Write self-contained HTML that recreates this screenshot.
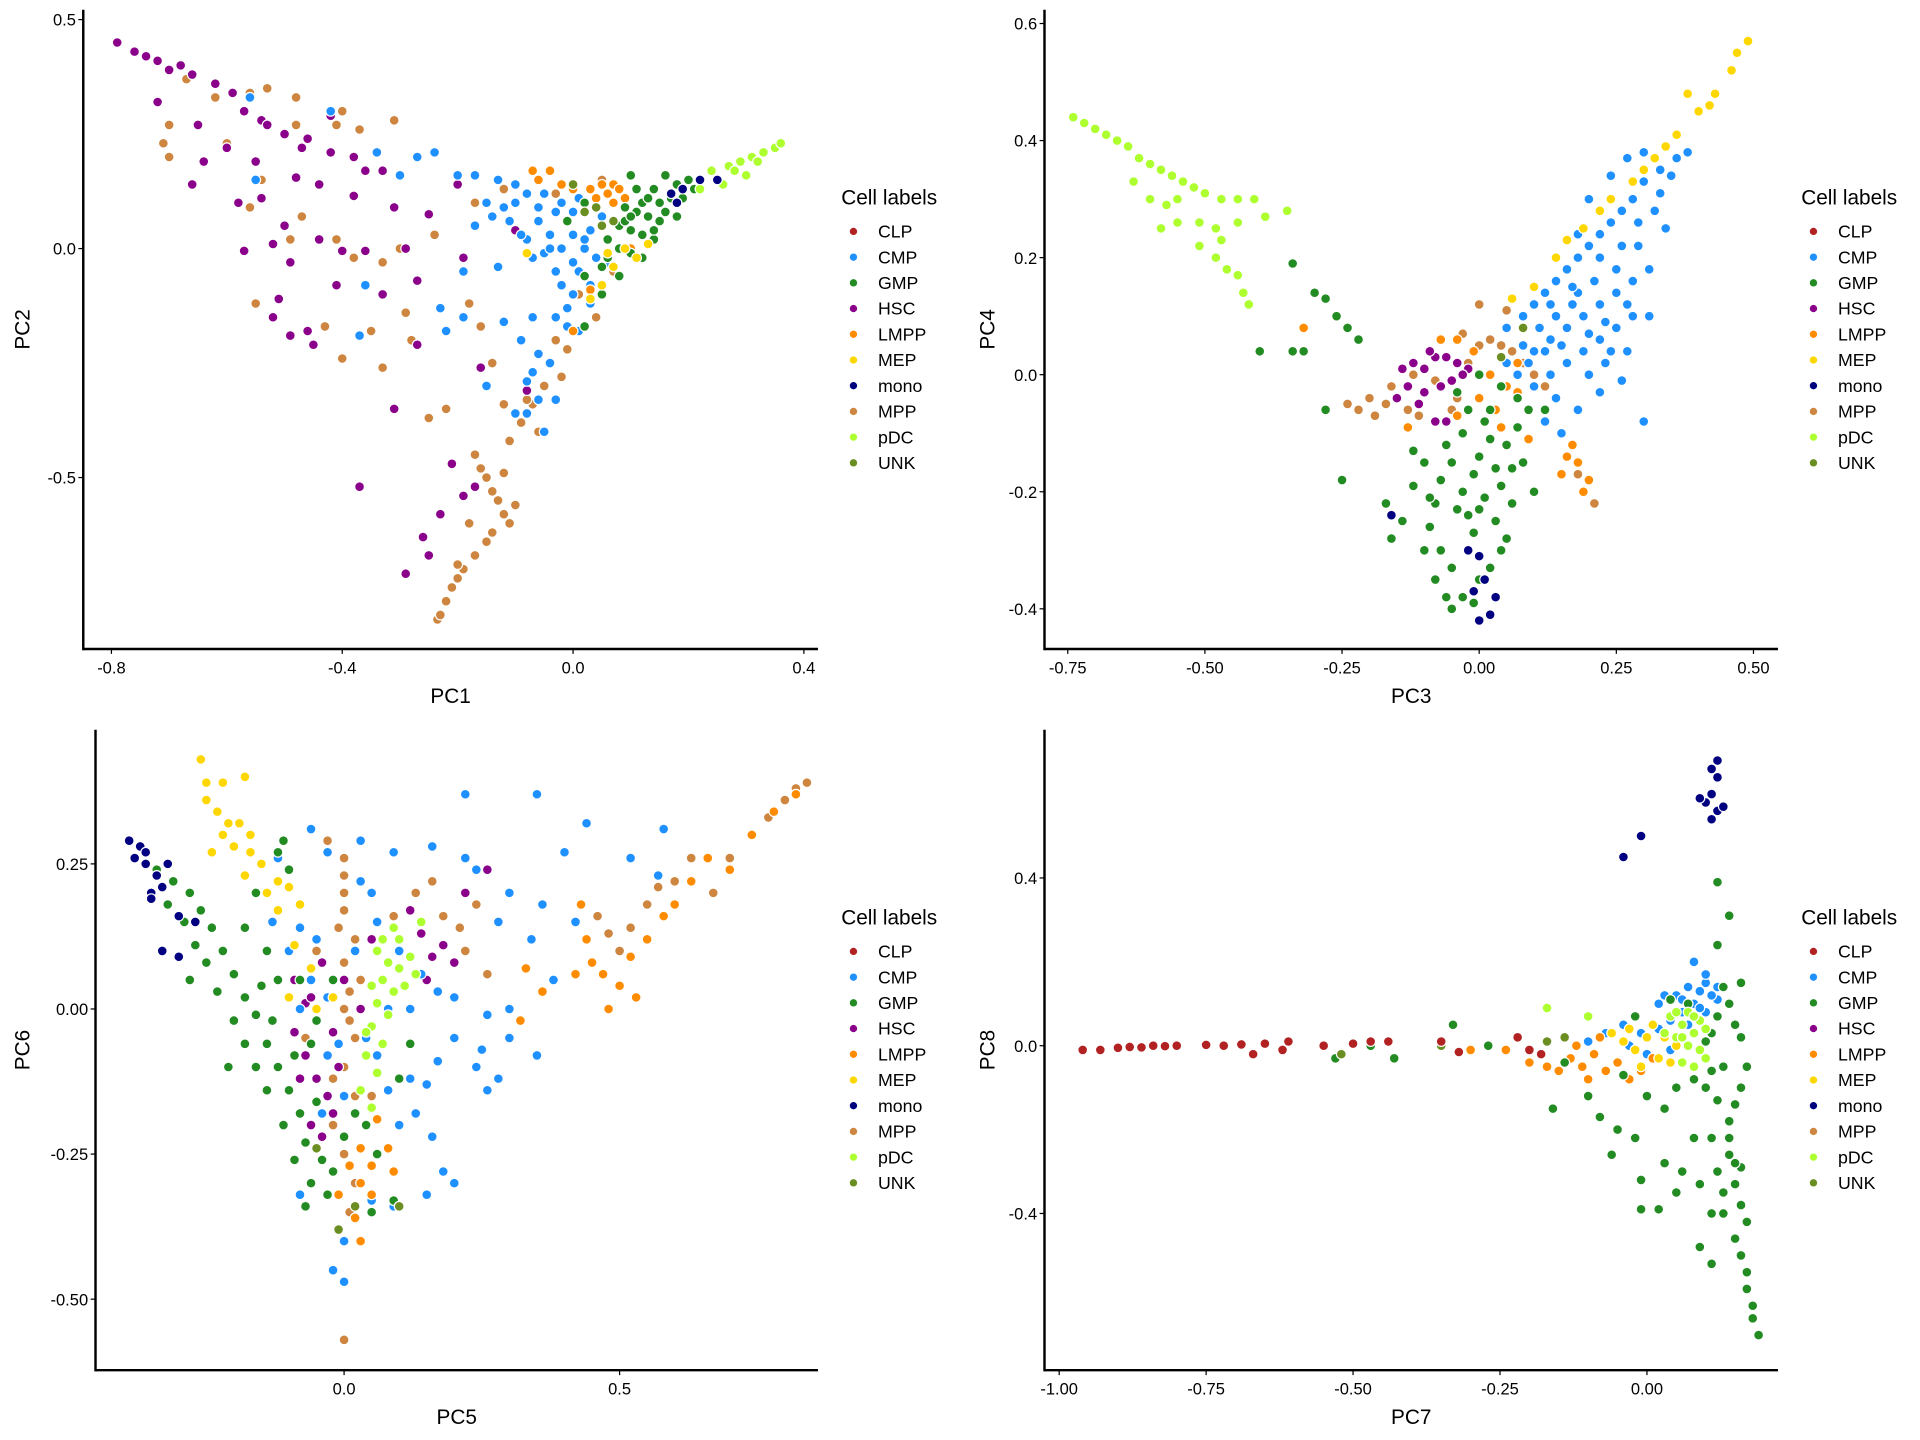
<!DOCTYPE html>
<html><head><meta charset="utf-8"><style>
html,body{margin:0;padding:0;background:#fff;}
svg{display:block;font-family:"Liberation Sans",Arial,sans-serif;}
</style></head><body>
<svg id="fig" width="1920" height="1440" viewBox="0 0 1568 1176" xmlns="http://www.w3.org/2000/svg"></svg>
<script>
const labels=["CLP","CMP","GMP","HSC","LMPP","MEP","mono","MPP","pDC","UNK"];
const colors={CLP:"#B22222",CMP:"#1E90FF",GMP:"#228B22",HSC:"#8B008B",LMPP:"#FF8C00",MEP:"#FFD700",mono:"#000080",MPP:"#CD853F",pDC:"#ADFF2F",UNK:"#6B8E23"};
const drawOrder=["MPP","HSC","CMP","LMPP","GMP","MEP","pDC","mono","UNK","CLP"];

const p1Ticks_x=[-0.8,-0.4,0.0,0.4]; const p1TickLabels_x=["-0.8","-0.4","0.0","0.4"];
const p1Ticks_y=[0.5,0.0,-0.5]; const p1TickLabels_y=["0.5","0.0","-0.5"];
const p1_HSC=[[-0.79,0.45],[-0.76,0.43],[-0.72,0.41],[-0.68,0.40],[-0.66,0.38],[-0.62,0.36],[-0.59,0.34],[-0.57,0.30],[-0.54,0.28],[-0.50,0.25],[-0.46,0.24],[-0.42,0.21],[-0.38,0.20],[-0.33,0.17],[-0.72,0.32],[-0.65,0.27],[-0.60,0.22],[-0.55,0.19],[-0.48,0.155],[-0.44,0.14],[-0.38,0.115],[-0.31,0.09],[-0.25,0.075],[-0.66,0.14],[-0.58,0.10],[-0.50,0.05],[-0.44,0.02],[-0.36,-0.005],[-0.29,0.0],[-0.57,-0.005],[-0.49,-0.03],[-0.41,-0.08],[-0.33,-0.10],[-0.27,-0.07],[-0.19,-0.02],[-0.10,0.04],[-0.19,-0.15],[-0.08,-0.31],[-0.10,-0.36],[-0.21,-0.47],[-0.23,-0.58],[-0.26,-0.63],[-0.25,-0.67],[-0.29,-0.71],[-0.37,-0.52],[-0.46,-0.18],[-0.52,-0.15],[-0.51,-0.11],[-0.27,-0.21],[-0.16,-0.26],[-0.64,0.19],[-0.54,0.11],[-0.42,0.29],[-0.20,0.14],[-0.49,-0.19],[-0.45,-0.21],[-0.31,-0.35],[-0.19,-0.54],[-0.17,-0.52],[-0.74,0.42],[-0.70,0.39],[-0.53,0.27],[-0.47,0.22],[-0.36,0.17],[-0.52,0.01],[-0.40,-0.005]];
const p1_MPP=[[-0.67,0.37],[-0.62,0.33],[-0.53,0.35],[-0.56,0.34],[-0.48,0.33],[-0.40,0.30],[-0.31,0.28],[-0.37,0.26],[-0.41,0.27],[-0.70,0.27],[-0.71,0.23],[-0.70,0.20],[-0.60,0.23],[-0.48,0.27],[-0.54,0.15],[-0.56,0.09],[-0.49,0.02],[-0.58,0.10],[-0.47,0.07],[-0.41,0.02],[-0.38,-0.02],[-0.30,0.00],[-0.33,-0.03],[-0.24,0.03],[-0.17,0.10],[-0.12,0.13],[-0.03,0.12],[0.05,0.15],[-0.55,-0.12],[-0.43,-0.17],[-0.40,-0.24],[-0.35,-0.18],[-0.29,-0.14],[-0.28,-0.20],[-0.18,-0.12],[-0.16,-0.17],[-0.14,-0.25],[-0.33,-0.26],[-0.22,-0.35],[-0.25,-0.37],[-0.12,-0.34],[-0.07,-0.34],[-0.02,-0.28],[-0.01,-0.22],[0.01,-0.10],[0.04,-0.15],[0.07,-0.05],[-0.17,-0.45],[-0.16,-0.48],[-0.15,-0.50],[-0.13,-0.55],[-0.12,-0.58],[-0.11,-0.60],[-0.10,-0.56],[-0.14,-0.62],[-0.15,-0.64],[-0.17,-0.67],[-0.19,-0.70],[-0.20,-0.72],[-0.21,-0.74],[-0.22,-0.77],[-0.235,-0.81],[-0.23,-0.80],[-0.18,-0.60],[-0.06,-0.40],[-0.09,-0.38],[-0.03,-0.20],[-0.08,-0.33],[-0.05,-0.30],[-0.11,-0.42],[-0.20,-0.69],[-0.12,-0.49],[-0.14,-0.53]];
const p1_CMP=[[-0.56,0.33],[-0.42,0.30],[-0.34,0.21],[-0.30,0.16],[-0.27,0.20],[-0.24,0.21],[-0.20,0.16],[-0.17,0.16],[-0.13,0.15],[-0.10,0.14],[-0.08,0.12],[-0.05,0.12],[-0.03,0.08],[-0.01,0.06],[0.0,0.03],[0.02,0.0],[0.00,-0.03],[-0.03,-0.05],[-0.05,-0.01],[-0.08,0.02],[-0.11,0.06],[-0.14,0.07],[-0.17,0.05],[-0.15,0.10],[-0.12,0.09],[-0.09,0.03],[-0.07,-0.02],[-0.04,0.03],[-0.02,0.0],[0.03,0.04],[0.04,-0.02],[0.06,-0.03],[-0.19,-0.05],[-0.13,-0.04],[-0.23,-0.13],[-0.19,-0.15],[-0.12,-0.16],[-0.07,-0.15],[-0.03,-0.15],[-0.01,-0.17],[0.01,-0.18],[-0.37,-0.19],[-0.22,-0.18],[-0.15,-0.30],[-0.07,-0.27],[-0.04,-0.25],[-0.06,-0.23],[-0.03,-0.33],[-0.1,-0.36],[-0.05,-0.40],[-0.08,-0.29],[0.03,-0.08],[0.0,-0.10],[-0.36,-0.08],[-0.55,0.15],[-0.02,0.10],[0.0,0.08],[-0.06,0.06],[-0.04,0.0],[0.01,-0.05],[-0.02,-0.08],[0.03,-0.12],[-0.01,-0.13],[-0.09,-0.20],[-0.06,-0.33],[-0.08,-0.36],[0.05,0.07],[0.02,0.02],[-0.10,0.10],[-0.06,0.09],[0.01,0.11]];
const p1_GMP=[[0.10,0.16],[0.14,0.13],[0.16,0.16],[0.18,0.14],[0.20,0.15],[0.12,0.10],[0.15,0.10],[0.17,0.11],[0.19,0.11],[0.09,0.09],[0.11,0.08],[0.13,0.07],[0.15,0.06],[0.08,0.05],[0.10,0.04],[0.12,0.03],[0.14,0.02],[0.06,0.02],[0.08,0.0],[0.10,-0.01],[0.12,-0.02],[0.05,-0.04],[0.08,-0.06],[0.02,0.10],[-0.01,0.06],[0.02,-0.06],[0.05,-0.10],[0.02,-0.17],[0.21,0.13],[0.11,0.13],[0.13,0.11],[0.16,0.08],[0.18,0.07],[0.14,0.04],[0.09,0.06],[0.06,-0.02],[0.10,0.07]];
const p1_LMPP=[[-0.07,0.17],[-0.04,0.17],[-0.02,0.14],[0.0,0.13],[0.03,0.13],[0.05,0.14],[0.07,0.14],[0.06,0.12],[0.09,0.11],[-0.06,0.15],[0.07,0.10],[0.03,-0.09],[0.0,-0.18],[0.10,0.0],[0.04,0.11],[0.08,0.13]];
const p1_MEP=[[-0.08,-0.01],[0.06,-0.01],[0.09,0.0],[0.07,-0.04],[0.05,-0.08],[0.03,-0.11],[0.13,0.01],[0.11,-0.02]];
const p1_mono=[[0.17,0.12],[0.19,0.13],[0.22,0.15],[0.25,0.15],[0.18,0.10]];
const p1_pDC=[[0.24,0.17],[0.27,0.18],[0.29,0.19],[0.31,0.20],[0.33,0.21],[0.35,0.22],[0.36,0.23],[0.30,0.16],[0.26,0.14],[0.22,0.13],[0.32,0.19],[0.28,0.17]];
const p1_UNK=[[0.0,0.14],[0.02,0.08],[0.05,0.05],[0.07,0.06],[0.04,0.09]];

const p2Ticks_x=[-0.75,-0.5,-0.25,0,0.25,0.5]; const p2TickLabels_x=["-0.75","-0.50","-0.25","0.00","0.25","0.50"];
const p2Ticks_y=[0.6,0.4,0.2,0,-0.2,-0.4]; const p2TickLabels_y=["0.6","0.4","0.2","0.0","-0.2","-0.4"];
const p2_pDC=[[-0.74,0.44],[-0.72,0.43],[-0.70,0.42],[-0.68,0.41],[-0.66,0.40],[-0.64,0.39],[-0.62,0.37],[-0.60,0.36],[-0.58,0.35],[-0.56,0.34],[-0.54,0.33],[-0.52,0.32],[-0.50,0.31],[-0.47,0.30],[-0.44,0.30],[-0.41,0.30],[-0.35,0.28],[-0.63,0.33],[-0.60,0.30],[-0.57,0.29],[-0.55,0.26],[-0.51,0.26],[-0.48,0.25],[-0.44,0.26],[-0.39,0.27],[-0.51,0.22],[-0.48,0.20],[-0.46,0.18],[-0.44,0.17],[-0.43,0.14],[-0.42,0.12],[-0.55,0.30],[-0.58,0.25],[-0.47,0.23]];
const p2_GMP=[[-0.34,0.19],[-0.30,0.14],[-0.28,0.13],[-0.26,0.10],[-0.24,0.08],[-0.22,0.06],[-0.32,0.04],[-0.40,0.04],[-0.34,0.04],[-0.28,-0.06],[-0.25,-0.18],[-0.17,-0.22],[-0.14,-0.25],[-0.16,-0.28],[-0.09,-0.26],[-0.10,-0.30],[-0.08,-0.35],[-0.05,-0.40],[-0.03,-0.38],[-0.05,-0.33],[-0.02,-0.30],[0.0,-0.35],[0.02,-0.33],[0.04,-0.30],[-0.01,-0.27],[0.03,-0.25],[0.06,-0.22],[0.01,-0.21],[-0.03,-0.20],[-0.07,-0.18],[-0.10,-0.15],[-0.06,-0.12],[-0.03,-0.10],[0.0,-0.14],[0.03,-0.16],[0.05,-0.12],[0.07,-0.09],[0.09,-0.06],[0.02,-0.06],[-0.02,-0.06],[-0.04,-0.03],[0.04,-0.02],[0.0,0.0],[-0.08,-0.22],[-0.12,-0.19],[0.08,-0.15],[0.10,-0.20],[0.05,-0.28],[-0.06,-0.38],[-0.01,-0.39],[-0.04,-0.23],[0.07,-0.04],[0.12,-0.06],[-0.12,-0.13],[0.01,-0.08],[-0.01,-0.17],[0.02,-0.11],[-0.07,-0.30],[-0.02,-0.24],[0.04,-0.19],[-0.05,-0.15],[0.0,-0.23],[-0.09,-0.21],[0.06,-0.16]];
const p2_mono=[[-0.02,-0.30],[0.0,-0.31],[0.01,-0.35],[-0.01,-0.37],[0.0,-0.42],[0.02,-0.41],[-0.16,-0.24],[0.03,-0.38]];
const p2_HSC=[[-0.14,0.01],[-0.12,0.02],[-0.10,0.01],[-0.08,0.03],[-0.06,0.03],[-0.04,0.02],[-0.02,0.01],[-0.13,-0.02],[-0.10,-0.03],[-0.07,-0.02],[-0.05,-0.01],[-0.11,-0.05],[-0.08,-0.08],[-0.06,-0.08],[-0.15,-0.04],[-0.09,0.04],[-0.03,0.0]];
const p2_MPP=[[-0.24,-0.05],[-0.22,-0.06],[-0.20,-0.04],[-0.19,-0.07],[-0.17,-0.05],[-0.15,-0.04],[-0.13,-0.06],[-0.11,-0.07],[-0.16,-0.02],[-0.12,0.0],[-0.08,-0.01],[-0.04,-0.04],[-0.02,0.02],[0.0,0.05],[0.02,0.06],[0.04,0.05],[0.06,0.04],[0.08,0.02],[0.10,0.0],[0.12,-0.02],[0.0,0.12],[-0.03,0.07],[0.18,-0.17],[0.21,-0.22],[-0.05,-0.06],[0.05,0.11]];
const p2_LMPP=[[-0.07,0.06],[-0.04,0.06],[-0.01,0.04],[0.02,0.0],[0.05,-0.02],[0.0,-0.04],[0.03,-0.06],[0.07,-0.03],[0.04,-0.09],[-0.04,-0.07],[0.16,-0.14],[0.18,-0.15],[0.20,-0.18],[0.15,-0.17],[0.19,-0.20],[0.17,-0.12],[-0.32,0.08],[-0.13,-0.09],[0.07,0.02],[0.09,-0.11]];
const p2_CMP=[[0.05,0.08],[0.08,0.10],[0.10,0.12],[0.12,0.14],[0.14,0.16],[0.16,0.18],[0.18,0.20],[0.20,0.22],[0.22,0.24],[0.24,0.26],[0.26,0.28],[0.28,0.30],[0.30,0.33],[0.33,0.35],[0.36,0.37],[0.38,0.38],[0.10,0.04],[0.13,0.06],[0.16,0.08],[0.19,0.10],[0.22,0.12],[0.25,0.14],[0.28,0.16],[0.31,0.18],[0.13,0.00],[0.16,0.02],[0.19,0.04],[0.22,0.06],[0.25,0.08],[0.28,0.10],[0.31,0.10],[0.10,-0.02],[0.14,-0.04],[0.18,-0.06],[0.22,-0.03],[0.26,-0.01],[0.30,-0.08],[0.25,0.18],[0.21,0.16],[0.17,0.12],[0.14,0.10],[0.11,0.08],[0.08,0.05],[0.05,0.02],[0.07,0.0],[0.2,0.0],[0.29,0.22],[0.23,0.02],[0.27,0.04],[0.12,-0.08],[0.15,-0.10],[0.34,0.25],[0.32,0.28],[0.18,0.14],[0.15,0.05],[0.26,0.22],[0.2,0.3],[0.24,0.34],[0.27,0.37],[0.30,0.38],[0.22,0.20],[0.18,0.24],[0.27,0.12],[0.09,0.02],[0.12,0.04],[0.23,0.09],[0.20,0.07],[0.17,0.15],[0.29,0.26],[0.33,0.31],[0.35,0.34],[0.13,0.12],[0.24,0.04]];
const p2_MEP=[[0.06,0.13],[0.10,0.15],[0.14,0.20],[0.19,0.25],[0.24,0.30],[0.28,0.33],[0.32,0.37],[0.36,0.41],[0.40,0.45],[0.43,0.48],[0.46,0.52],[0.49,0.57],[0.38,0.48],[0.30,0.35],[0.22,0.28],[0.16,0.23],[0.47,0.55],[0.34,0.39],[0.42,0.46]];
const p2_UNK=[[0.08,0.08],[0.04,0.03]];

const p3Ticks_x=[0,0.5]; const p3TickLabels_x=["0.0","0.5"];
const p3Ticks_y=[0.25,0,-0.25,-0.5]; const p3TickLabels_y=["0.25","0.00","-0.25","-0.50"];
const p3_mono=[[-0.39,0.29],[-0.37,0.28],[-0.36,0.27],[-0.38,0.26],[-0.36,0.25],[-0.34,0.23],[-0.33,0.21],[-0.35,0.20],[-0.32,0.25],[-0.30,0.16],[-0.27,0.15],[-0.30,0.09],[-0.33,0.10],[-0.35,0.19]];
const p3_MEP=[[-0.26,0.43],[-0.25,0.39],[-0.22,0.39],[-0.18,0.40],[-0.25,0.36],[-0.23,0.34],[-0.21,0.32],[-0.19,0.32],[-0.17,0.30],[-0.22,0.30],[-0.20,0.28],[-0.17,0.27],[-0.15,0.25],[-0.12,0.22],[-0.10,0.21],[-0.14,0.20],[-0.08,0.18],[-0.12,0.17],[-0.24,0.27],[-0.18,0.23],[-0.09,0.11],[-0.06,0.07],[-0.05,0.0],[-0.10,0.02],[-0.02,0.02]];
const p3_MPP=[[-0.03,0.29],[0.0,0.26],[0.0,0.23],[0.0,0.20],[0.0,0.17],[0.02,0.12],[0.0,0.08],[0.03,0.05],[0.0,0.0],[0.02,-0.05],[0.0,-0.10],[0.02,-0.15],[-0.02,-0.20],[0.0,-0.25],[0.02,-0.30],[0.01,-0.35],[0.0,-0.57],[0.09,0.16],[0.13,0.20],[0.16,0.22],[0.18,0.16],[0.21,0.14],[0.24,0.18],[0.22,0.10],[0.26,0.06],[0.46,0.16],[0.48,0.13],[0.50,0.10],[0.52,0.14],[0.55,0.18],[0.57,0.21],[0.60,0.22],[0.63,0.26],[0.67,0.20],[0.70,0.26],[0.74,0.30],[0.77,0.33],[0.80,0.36],[0.82,0.38],[0.84,0.39],[-0.05,0.10],[-0.07,-0.05],[0.05,-0.15],[-0.01,0.14],[0.01,-0.02],[-0.02,-0.12],[0.01,0.03]];
const p3_LMPP=[[0.44,0.12],[0.45,0.08],[0.47,0.06],[0.50,0.04],[0.52,0.09],[0.53,0.02],[0.48,0.00],[0.42,0.06],[0.43,0.18],[0.55,0.12],[0.58,0.16],[0.60,0.18],[0.63,0.22],[0.66,0.26],[0.70,0.24],[0.74,0.30],[0.78,0.34],[0.82,0.37],[0.36,0.03],[0.32,-0.02],[0.33,0.07],[0.03,-0.24],[0.01,-0.27],[0.03,-0.30],[0.05,-0.32],[0.02,-0.36],[0.03,-0.40],[-0.01,-0.32],[0.05,-0.27],[0.08,-0.24],[0.09,-0.28],[0.06,-0.19]];
const p3_CMP=[[-0.06,0.31],[-0.03,0.27],[0.03,0.29],[-0.12,0.26],[0.16,0.28],[0.22,0.26],[0.24,0.24],[0.22,0.37],[0.35,0.37],[0.40,0.27],[0.44,0.32],[0.58,0.31],[0.52,0.26],[0.57,0.23],[0.30,0.20],[0.28,0.15],[0.34,0.12],[0.36,0.18],[0.42,0.15],[0.38,0.05],[0.30,0.00],[0.26,-0.01],[0.30,-0.05],[0.35,-0.08],[0.28,-0.12],[0.24,-0.10],[0.26,-0.14],[0.20,-0.05],[0.17,-0.09],[0.15,-0.13],[0.13,-0.18],[0.16,-0.22],[0.10,-0.20],[0.06,0.15],[0.10,0.10],[0.14,0.06],[0.17,0.03],[0.20,0.02],[-0.08,0.14],[-0.10,0.10],[-0.06,0.05],[-0.03,-0.08],[0.05,0.20],[0.04,-0.05],[0.08,0.00],[0.12,0.00],[0.18,-0.28],[0.20,-0.30],[0.15,-0.32],[0.05,-0.33],[0.0,-0.40],[-0.02,-0.45],[0.0,-0.47],[-0.08,-0.32],[0.09,-0.34],[0.25,-0.07],[-0.13,0.15],[0.09,0.27],[-0.05,0.12],[0.02,0.10],[-0.08,0.0],[-0.03,0.02],[0.0,-0.15],[-0.04,-0.18],[0.06,-0.08],[0.12,-0.12],[0.03,0.22],[-0.01,-0.06],[0.08,-0.14]];
const p3_GMP=[[-0.34,0.24],[-0.31,0.22],[-0.28,0.20],[-0.32,0.18],[-0.29,0.15],[-0.26,0.17],[-0.24,0.14],[-0.27,0.11],[-0.25,0.08],[-0.22,0.10],[-0.20,0.06],[-0.23,0.03],[-0.18,0.02],[-0.20,-0.02],[-0.16,-0.01],[-0.14,-0.06],[-0.18,-0.06],[-0.16,-0.10],[-0.12,-0.10],[-0.10,-0.14],[-0.14,-0.14],[-0.08,-0.18],[-0.11,-0.20],[-0.07,-0.23],[-0.09,-0.26],[-0.04,-0.26],[-0.06,-0.30],[-0.03,-0.32],[-0.07,-0.34],[-0.02,-0.28],[0.05,-0.35],[0.09,-0.33],[-0.11,0.29],[-0.12,0.27],[-0.10,0.24],[-0.16,0.20],[-0.18,0.14],[-0.14,0.10],[-0.12,0.05],[-0.08,0.05],[-0.05,-0.02],[-0.02,0.05],[0.12,-0.06],[0.10,-0.12],[0.02,-0.18],[-0.28,0.05],[-0.21,-0.10],[0.06,-0.25],[-0.13,-0.02],[-0.06,-0.06],[-0.05,-0.16],[0.0,-0.22],[0.04,-0.20],[-0.15,0.04],[-0.09,-0.08]];
const p3_HSC=[[-0.10,0.10],[-0.09,0.05],[-0.07,0.01],[-0.09,-0.04],[-0.07,-0.08],[-0.05,-0.12],[-0.03,-0.15],[-0.06,-0.20],[-0.04,-0.22],[-0.02,-0.04],[0.0,0.05],[0.05,0.12],[0.12,0.17],[0.14,0.13],[0.16,0.09],[0.18,0.11],[0.20,0.08],[0.15,0.05],[0.26,0.24],[0.22,0.20],[-0.04,0.08],[-0.01,-0.10],[-0.08,-0.12],[-0.02,-0.18],[0.03,0.0],[-0.06,0.02]];
const p3_pDC=[[0.06,0.10],[0.08,0.08],[0.10,0.07],[0.12,0.09],[0.07,0.05],[0.09,0.03],[0.06,0.01],[0.08,-0.01],[0.05,-0.03],[0.07,-0.06],[0.04,-0.08],[0.06,-0.11],[0.03,-0.14],[0.05,-0.17],[0.11,0.04],[0.13,0.06],[0.10,0.12],[0.14,0.15],[0.04,-0.04],[0.09,0.14],[0.07,0.12],[0.05,0.04]];
const p3_UNK=[[-0.01,-0.38],[0.02,-0.34],[0.10,-0.34],[-0.05,-0.24]];

const p4Ticks_x=[-1,-0.75,-0.5,-0.25,0]; const p4TickLabels_x=["-1.00","-0.75","-0.50","-0.25","0.00"];
const p4Ticks_y=[0.4,0,-0.4]; const p4TickLabels_y=["0.4","0.0","-0.4"];
const p4_CLP=[[-0.96,-0.01],[-0.93,-0.01],[-0.90,-0.005],[-0.88,-0.003],[-0.86,-0.004],[-0.84,0.0],[-0.82,-0.001],[-0.80,0.0],[-0.75,0.002],[-0.72,0.0],[-0.69,0.003],[-0.67,-0.02],[-0.65,0.005],[-0.62,-0.01],[-0.61,0.01],[-0.55,0.0],[-0.50,0.005],[-0.47,0.01],[-0.44,0.01],[-0.35,0.01],[-0.32,-0.015],[-0.22,0.02],[-0.20,-0.01],[-0.18,-0.02]];
const p4_GMP=[[-0.53,-0.03],[-0.47,0.0],[-0.43,-0.03],[-0.33,0.05],[-0.27,0.0],[-0.14,-0.04],[-0.16,-0.15],[-0.10,-0.12],[-0.08,-0.17],[-0.05,-0.20],[-0.06,-0.26],[-0.02,-0.22],[0.0,-0.12],[0.03,-0.15],[0.05,-0.10],[0.08,-0.08],[0.10,-0.10],[0.12,-0.13],[0.14,-0.18],[0.11,-0.22],[0.08,-0.22],[0.06,-0.30],[0.09,-0.33],[0.12,-0.30],[0.14,-0.26],[0.15,-0.33],[0.13,-0.40],[0.11,-0.40],[0.16,-0.38],[0.15,-0.46],[0.16,-0.50],[0.17,-0.54],[0.17,-0.58],[0.18,-0.62],[0.18,-0.65],[0.19,-0.69],[0.02,-0.39],[-0.01,-0.39],[0.05,-0.35],[0.09,-0.48],[0.11,-0.52],[0.03,-0.28],[-0.01,-0.32],[-0.04,-0.07],[0.11,0.03],[0.12,0.07],[0.15,0.05],[0.16,0.02],[0.17,-0.05],[0.13,0.14],[0.12,0.24],[0.14,0.31],[0.12,0.39],[0.16,0.15],[0.10,0.01],[0.07,0.10],[0.04,0.11],[-0.02,0.07],[0.16,-0.10],[0.13,-0.05],[0.14,-0.22],[0.16,-0.29],[0.17,-0.42],[0.15,-0.28],[0.13,-0.35],[0.14,0.10],[0.11,-0.06],[0.15,-0.14]];
const p4_mono=[[0.12,0.68],[0.11,0.66],[0.12,0.64],[0.11,0.60],[0.10,0.58],[0.09,0.59],[0.12,0.56],[0.11,0.54],[0.13,0.57],[-0.01,0.50],[-0.04,0.45]];
const p4_CMP=[[0.02,0.10],[0.05,0.12],[0.07,0.14],[0.09,0.13],[0.10,0.15],[0.08,0.10],[0.04,0.06],[0.02,0.04],[-0.01,0.03],[-0.04,0.05],[-0.07,0.03],[-0.03,0.00],[0.00,-0.02],[0.04,-0.01],[0.07,0.05],[0.10,0.08],[0.12,0.11],[0.12,0.14],[0.08,0.20],[0.10,0.17],[0.03,0.12],[0.06,0.08],[-0.10,0.01],[0.06,0.11],[0.09,0.09],[0.11,0.12]];
const p4_LMPP=[[-0.30,-0.01],[-0.24,-0.01],[-0.20,-0.04],[-0.17,-0.05],[-0.15,-0.06],[-0.13,-0.03],[-0.11,-0.05],[-0.09,-0.02],[-0.07,-0.06],[-0.05,-0.04],[-0.03,-0.08],[-0.01,-0.06],[0.01,-0.03],[-0.12,0.00],[-0.08,0.02],[-0.10,-0.08]];
const p4_MEP=[[-0.06,0.03],[-0.04,0.01],[-0.02,-0.01],[0.0,0.02],[0.02,-0.03],[-0.01,-0.05],[0.03,0.02],[0.05,0.0],[0.01,0.05],[-0.03,0.04],[0.04,-0.04]];
const p4_pDC=[[0.04,0.07],[0.06,0.05],[0.08,0.03],[0.05,0.02],[0.07,0.0],[0.09,-0.01],[0.06,-0.04],[0.08,-0.05],[0.10,0.04],[0.05,0.08],[0.07,0.08],[0.09,0.06],[0.03,0.03],[-0.17,0.09],[-0.10,0.07],[0.10,-0.03],[0.08,0.07],[0.06,0.02]];
const p4_UNK=[[-0.52,-0.02],[-0.35,0.0],[-0.14,0.02],[-0.17,0.01]];

const NS="http://www.w3.org/2000/svg";
const svg=document.getElementById('fig');
function mk(tag,attrs,parent){const e=document.createElementNS(NS,tag);for(const k in attrs)e.setAttribute(k,attrs[k]);(parent||svg).appendChild(e);return e;}

const panels=[
 {id:"pc1-pc2",ax:68,yb:530,yt:8,xr:668,x0:468,xs:471.25,y0:203,ys:374,xt:p1Ticks_x,xl:p1TickLabels_x,yt_:p1Ticks_y,yl:p1TickLabels_y,xlab:"PC1",ylab:"PC2",ylabX:18,legX:687,legY:167,
  data:{HSC:p1_HSC,MPP:p1_MPP,CMP:p1_CMP,GMP:p1_GMP,LMPP:p1_LMPP,MEP:p1_MEP,mono:p1_mono,pDC:p1_pDC,UNK:p1_UNK}},
 {id:"pc3-pc4",ax:853,yb:530,yt:8,xr:1452,x0:1208,xs:448,y0:306,ys:478,xt:p2Ticks_x,xl:p2TickLabels_x,yt_:p2Ticks_y,yl:p2TickLabels_y,xlab:"PC3",ylab:"PC4",ylabX:806,legX:1471,legY:167,
  data:{pDC:p2_pDC,GMP:p2_GMP,mono:p2_mono,HSC:p2_HSC,MPP:p2_MPP,LMPP:p2_LMPP,CMP:p2_CMP,MEP:p2_MEP,UNK:p2_UNK}},
 {id:"pc5-pc6",ax:78,yb:1119,yt:596,xr:668,x0:281,xs:450,y0:824,ys:474,xt:p3Ticks_x,xl:p3TickLabels_x,yt_:p3Ticks_y,yl:p3TickLabels_y,xlab:"PC5",ylab:"PC6",ylabX:18,legX:687,legY:755,
  data:{mono:p3_mono,MEP:p3_MEP,MPP:p3_MPP,LMPP:p3_LMPP,CMP:p3_CMP,GMP:p3_GMP,HSC:p3_HSC,pDC:p3_pDC,UNK:p3_UNK}},
 {id:"pc7-pc8",ax:853,yb:1119,yt:596,xr:1452,x0:1345,xs:480,y0:854,ys:342.5,xt:p4Ticks_x,xl:p4TickLabels_x,yt_:p4Ticks_y,yl:p4TickLabels_y,xlab:"PC7",ylab:"PC8",ylabX:806,legX:1471,legY:755,
  data:{CLP:p4_CLP,GMP:p4_GMP,mono:p4_mono,CMP:p4_CMP,LMPP:p4_LMPP,MEP:p4_MEP,pDC:p4_pDC,UNK:p4_UNK}}
];

panels.forEach(p=>{
 const g=mk('g',{});
 
 
 const sx=v=>p.x0+v*p.xs, sy=v=>p.y0-v*p.ys;
 const pts=mk('g',{},g);
 
 
 drawOrder.forEach(lab=>{
  const arr=p.data[lab]; if(!arr) return;
  arr.forEach(d=>{
   const c=mk('circle',{cx:sx(d[0]),cy:sy(d[1]),r:4,fill:colors[lab],stroke:'#fff','stroke-width':1},pts);
   
   
  });
 });
 const xa=mk('line',{x1:p.ax,y1:p.yb,x2:p.xr,y2:p.yb,stroke:'#000','stroke-width':2},g);
 
 
 const ya=mk('line',{x1:p.ax,y1:p.yt,x2:p.ax,y2:p.yb+1,stroke:'#000','stroke-width':2},g);
 
 
 p.xt.forEach((v,i)=>{
  const x=sx(v);
  mk('line',{x1:x,y1:p.yb,x2:x,y2:p.yb+4,stroke:'#000','stroke-width':1},g);
  const t=mk('text',{x:x,y:p.yb+20,'text-anchor':'middle','font-size':13.5,fill:'#000'},g);
  t.textContent=p.xl[i];
  
  
 });
 p.yt_.forEach((v,i)=>{
  const y=sy(v);
  mk('line',{x1:p.ax-4,y1:y,x2:p.ax,y2:y,stroke:'#000','stroke-width':1},g);
  const t=mk('text',{x:p.ax-6,y:y+5,'text-anchor':'end','font-size':13.5,fill:'#000'},g);
  t.textContent=p.yl[i];
  
  
 });
 const xt=mk('text',{x:(p.ax+p.xr)/2,y:p.yb+44,'text-anchor':'middle','font-size':17,fill:'#000'},g);
 xt.textContent=p.xlab;
 
 
 const ym=(p.yt+p.yb)/2;
 const yt=mk('text',{x:0,y:0,transform:`translate(${p.ylabX+6},${ym}) rotate(-90)`,'text-anchor':'middle','font-size':17,fill:'#000'},g);
 yt.textContent=p.ylab;
 
 
 const leg=mk('g',{},g);
 
 
 const lt=mk('text',{x:p.legX,y:p.legY,'font-size':17,fill:'#000'},leg);
 lt.textContent='Cell labels';
 
 
 labels.forEach((lab,i)=>{
  const cy=p.legY+22+i*21;
  const e=mk('g',{},leg);
  
  
  mk('circle',{cx:p.legX+10,cy:cy,r:3.5,fill:colors[lab],stroke:'#fff','stroke-width':1},e);
  const t=mk('text',{x:p.legX+30,y:cy+5,'font-size':14.5,fill:'#000'},e);
  t.textContent=lab;
 });
});
</script>
</body></html>
